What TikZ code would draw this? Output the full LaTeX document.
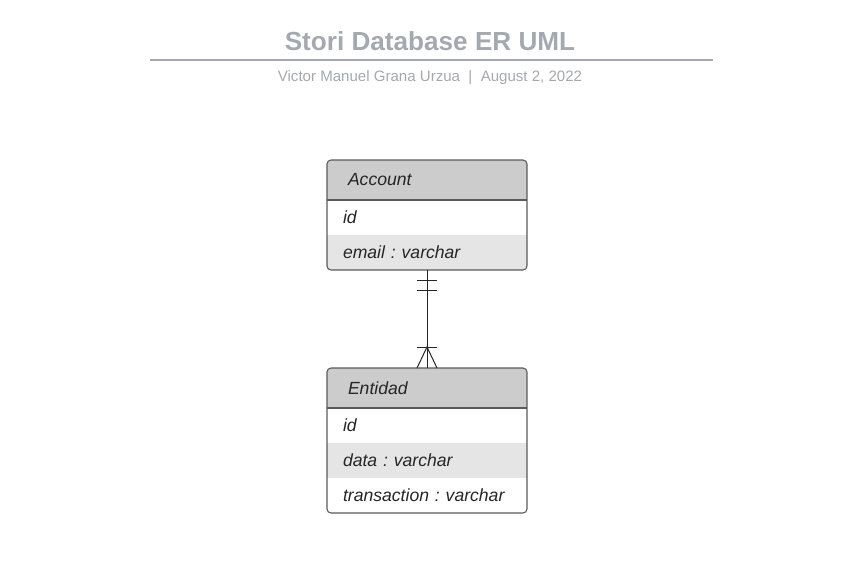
\documentclass[tikz,border=0pt]{standalone}
\usepackage{fontspec}
\setmainfont{Liberation Sans}
\usepackage{xcolor}
\usetikzlibrary{positioning,calc}
\definecolor{titlegray}{HTML}{A4A9B1}
\definecolor{headgray}{HTML}{CCCCCC}
\definecolor{rowgray}{HTML}{E5E5E5}
\definecolor{edgegray}{HTML}{5A5A5A}
\tikzset{
    tblhead/.style={fill=headgray, outer sep=0pt, inner xsep=15.75pt, inner ysep=0pt, text width=118.5pt, minimum height=30pt, align=left, font=\fontsize{13.2pt}{15pt}\selectfont\itshape, text=black!85},
    tblrow/.style={fill=#1, outer sep=0pt, inner xsep=12pt, inner ysep=0pt, text width=126pt, minimum height=26.25pt, align=left, font=\fontsize{13.2pt}{15pt}\selectfont\itshape, text=black!85},
    tblrow/.default=white,
    tbledge/.style={draw=edgegray, line width=0.8pt, rounded corners=3pt}}

\begin{document}
\frenchspacing
\begin{tikzpicture}[x=0.75pt,y=-0.75pt]
\useasboundingbox (0,0) rectangle (853,587);
% title
\node[text=titlegray, font=\fontsize{19.6pt}{22pt}\selectfont\bfseries] (title) at (430,41) {Stori Database ER UML};
\draw[titlegray, line width=1.2pt] (150,60) -- (713,60);
\node[text=titlegray, font=\fontsize{11.3pt}{13pt}\selectfont] (sub) at (430,78) {Victor Manuel Grana Urzua \ | \ August 2, 2022};
% Account
\begin{scope}
\clip[rounded corners=3pt] (327,160) rectangle (527,270);
\node[tblhead, anchor=north west] (acchead) at (327,160) {Account};
\node[tblrow, below=0pt of acchead] (accid) {id};
\node[tblrow=rowgray, below=0pt of accid] (accmail) {email : varchar};
\end{scope}
\draw[tbledge] (acchead.north west) rectangle (accmail.south east);
\draw[edgegray, line width=0.8pt] (acchead.south west) -- (acchead.south east);
% Entidad
\begin{scope}
\clip[rounded corners=3pt] (327,368) rectangle (527,513);
\node[tblhead, anchor=north west] (enthead) at (327,368) {Entidad};
\node[tblrow, below=0pt of enthead] (entid) {id};
\node[tblrow=rowgray, below=0pt of entid] (entdata) {data : varchar};
\node[tblrow, below=0pt of entdata] (enttrans) {transaction : varchar};
\end{scope}
\draw[tbledge] (enthead.north west) rectangle (enttrans.south east);
\draw[edgegray, line width=0.8pt] (enthead.south west) -- (enthead.south east);
% relation: one and only one -> one or many
\draw[black!85, line width=0.75pt] (accmail.south) -- (enthead.north);
\draw[black!85, line width=0.75pt] ($(accmail.south)+(-10,10)$) -- ($(accmail.south)+(10,10)$);
\draw[black!85, line width=0.75pt] ($(accmail.south)+(-10,20)$) -- ($(accmail.south)+(10,20)$);
\draw[black!85, line width=0.75pt] ($(enthead.north)+(-10,-21)$) -- ($(enthead.north)+(10,-21)$);
\draw[black!85, line width=0.75pt] ($(enthead.north)+(-10,0)$) -- ($(enthead.north)+(0,-21)$) -- ($(enthead.north)+(10,0)$);
\end{tikzpicture}
\end{document}
